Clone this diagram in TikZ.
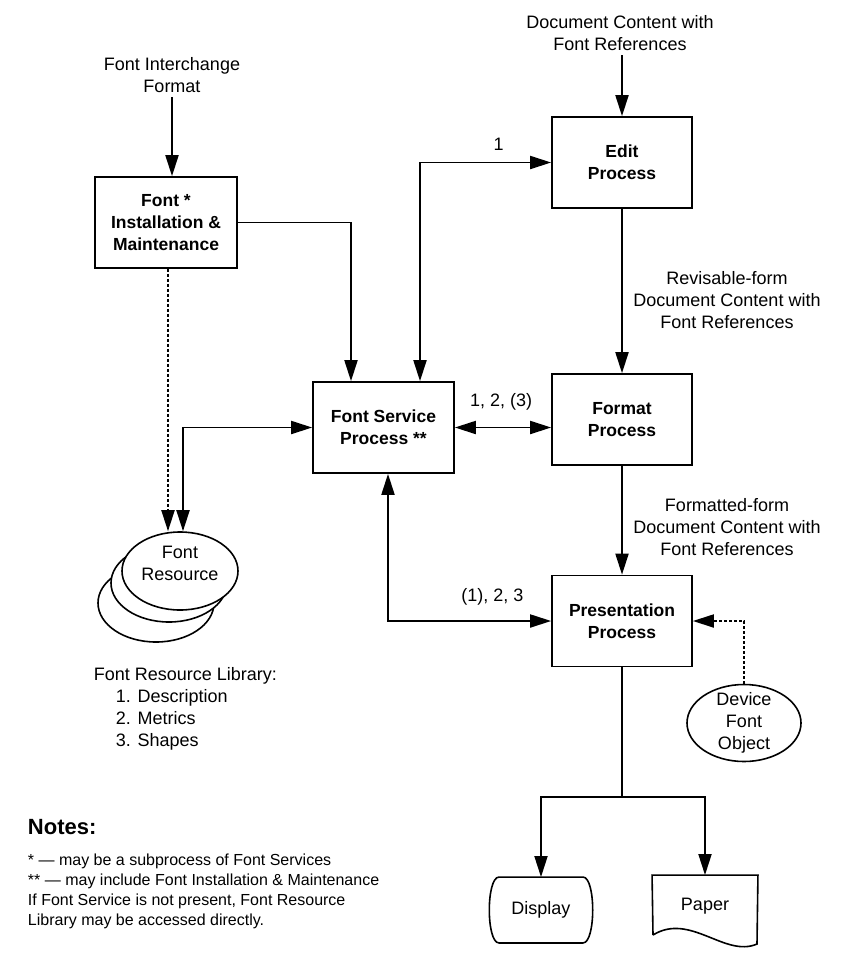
\documentclass[tikz,border=0pt]{standalone}
\usepackage{fontspec}
\setmainfont{Liberation Sans}
\usetikzlibrary{arrows.meta,shapes.geometric}

\tikzset{
  proc/.style={draw, line width=1.7pt, minimum width=140pt, minimum height=91pt,
    align=center, font=\fontsize{17.5}{22}\selectfont\bfseries},
  lbl/.style={align=center, font=\fontsize{18}{22}\selectfont},
  blob/.style={draw, ellipse, line width=1.6pt, fill=white, inner sep=0pt,
    minimum width=116pt, minimum height=78pt},
  dashline/.style={dash pattern=on 3pt off 2pt},
}

\begin{document}
\begin{tikzpicture}[x=1pt, y=-1pt, line width=1.9pt, >={Triangle[length=21pt,width=13pt]}]
\useasboundingbox (0,0) rectangle (863,967);

% process boxes
\node[proc] (inst) at (166,222.5) [minimum width=142pt] {Font *\\Installation \&\\Maintenance};
\node[proc] (fsp) at (383.5,427.5) [minimum width=141pt] {Font Service\\Process **};
\node[proc] (edit) at (622,162.5) {Edit\\Process};
\node[proc] (format) at (622,419.5) {Format\\Process};
\node[proc] (present) at (622,621) {Presentation\\Process};

% inputs and flow labels
\node[lbl] (fif) at (172,75) {Font Interchange\\Format};
\node[lbl] (doc) at (620,33.5) {Document Content with\\Font References};
\node[lbl] (rev) at (727,300) {Revisable-form\\Document Content with\\Font References};
\node[lbl] (fmt) at (727,527) {Formatted-form\\Document Content with\\Font References};

% font resource stack
\draw[line width=1.6pt, fill=white] (156,603) ellipse [x radius=58pt, y radius=39pt];
\draw[line width=1.6pt, fill=white] (169,583) ellipse [x radius=58pt, y radius=39pt];
\node[blob] (res) at (180,571) {};
\node[lbl] (restext) at ([yshift=8pt]res.center) {Font\\Resource};

\node[blob, minimum width=114pt, minimum height=77pt] (device) at (744,723) {};
\node[lbl] (devtext) at (device.center) {Device\\Font\\Object};

% output devices
\node[lbl, minimum width=102pt, minimum height=64pt] (display) at (541,910) {Display};
\draw[line width=1.6pt] ([xshift=10pt]display.north west) -- ([xshift=-10pt]display.north east)
  .. controls ([xshift=3pt]display.north east) and ([xshift=3pt]display.south east) .. ([xshift=-10pt]display.south east)
  -- ([xshift=10pt]display.south west)
  .. controls ([xshift=-3pt]display.south west) and ([xshift=-3pt]display.north west) .. cycle;

\node[lbl, minimum width=104pt, minimum height=60pt] (paper) at (705,906) {Paper};
\draw[line width=1.6pt] (653,935) -- (paper.north west) -- (paper.north east) -- (757,944)
  .. controls (725,958) and (690,912) .. (653,935);

% connectors
\draw[->] (fif.south) -- (fif.south |- inst.north);
\draw[->] (edit.north |- doc.south) -- (edit.north);
\draw[->] (inst.east) -| ([xshift=-32.5pt]fsp.north);
\draw[<->] ([xshift=36.5pt]fsp.north) |- (edit.west)
  node[lbl, pos=0.8, above=7.5pt] {1};
\draw[<->] (fsp.east) -- (fsp.east -| format.west)
  node[lbl, pos=0.48, above=13pt] {1, 2, (3)};
\draw[<->] ([xshift=4.5pt]fsp.south) |- (present.west)
  node[lbl, pos=0.82, above=11pt] {(1), 2, 3};
\draw[->] (edit.south) -- (format.north);
\draw[->] (format.south) -- (present.north);
\draw[->, dashline] ([xshift=2pt]inst.south) -- ([xshift=-12pt]res.north);
\draw[<->] ([xshift=3pt]res.north) |- (fsp.west);
\draw[->, dashline] (device.north) |- (present.east);

\coordinate (split) at (622,797);
\draw[line width=1.4pt] (present.south) -- (split);
\draw[->] (split) -| (display.north);
\draw[->] (split) -| (paper.north);

% library and notes
\node[lbl, align=left, anchor=north west, inner sep=0pt] (lib) at (93,666)
  {Font Resource Library:\\\hspace*{22pt}1. Description\\\hspace*{22pt}2. Metrics\\\hspace*{22pt}3. Shapes};
\node[anchor=north west, inner sep=0pt, font=\fontsize{22}{26}\selectfont\bfseries] (notes) at (27,818) {Notes:};
\node[anchor=north west, inner sep=0pt, align=left, font=\fontsize{16}{20}\selectfont] (notetext) at (27,853)
  {* — may be a subprocess of Font Services\\** — may include Font Installation \& Maintenance\\If Font Service is not present, Font Resource\\Library may be accessed directly.};
\end{tikzpicture}
\end{document}
